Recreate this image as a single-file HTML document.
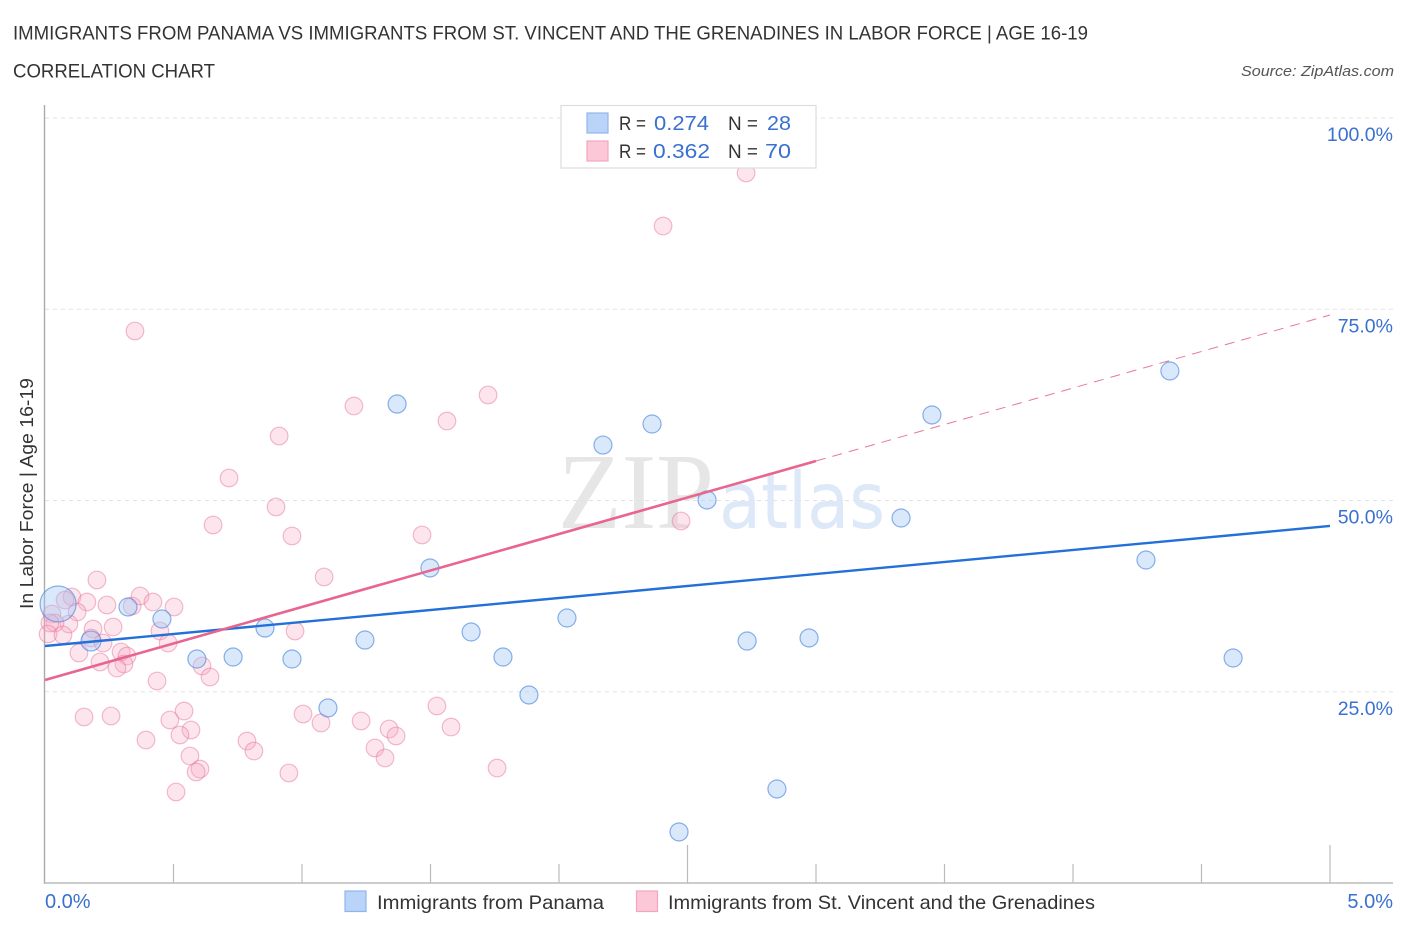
<!DOCTYPE html>
<html lang="en">
<head>
<meta charset="utf-8">
<title>Immigrants from Panama vs Immigrants from St. Vincent and the Grenadines in Labor Force | Age 16-19</title>
<style>
html,body{margin:0;padding:0;background:#fff;width:1406px;height:930px;overflow:hidden}
svg{display:block;font-family:"Liberation Sans",sans-serif}
</style>
</head>
<body>
<svg id="chart" width="1406" height="930" viewBox="0 0 1406 930" xmlns="http://www.w3.org/2000/svg">
  <text x="13" y="39.5" font-size="19.5" fill="#333" textLength="1075" lengthAdjust="spacingAndGlyphs">IMMIGRANTS FROM PANAMA VS IMMIGRANTS FROM ST. VINCENT AND THE GRENADINES IN LABOR FORCE | AGE 16-19</text>
  <text x="13" y="77.5" font-size="19.5" fill="#333" textLength="202" lengthAdjust="spacingAndGlyphs">CORRELATION CHART</text>
  <text x="1241" y="76" font-size="15" font-style="italic" fill="#555" textLength="153" lengthAdjust="spacingAndGlyphs">Source: ZipAtlas.com</text>

  <g>
    <text x="558" y="528" font-family="'Liberation Serif',serif" font-size="108" fill="#e6e6e6" textLength="156" lengthAdjust="spacingAndGlyphs">ZIP</text>
    <text x="719" y="528" font-family="'DejaVu Sans',sans-serif" font-size="78" fill="#dde9f9" textLength="166" lengthAdjust="spacingAndGlyphs">atlas</text>
  </g>

  <g id="grid"></g>
  <g id="axes"></g>
  <g id="points"></g>
  <g id="lines"></g>
  <g id="yticks"></g>
  <g id="xticks"></g>

  <text transform="translate(33,609) rotate(-90)" font-size="18.5" fill="#333" textLength="231" lengthAdjust="spacingAndGlyphs">In Labor Force | Age 16-19</text>

  <g>
    <rect x="561" y="105.5" width="255" height="62.5" fill="#fff" stroke="#ddd" stroke-width="1.2"/>
    <rect x="587" y="113" width="21" height="20" fill="#b9d4f8" stroke="#8fb6ec" stroke-width="1.2"/>
    <rect x="587" y="141" width="21" height="20" fill="#fcc8d8" stroke="#f2a6bf" stroke-width="1.2"/>
    <text x="619" y="130" font-size="19" fill="#333" textLength="27" lengthAdjust="spacingAndGlyphs">R =</text>
    <text x="654" y="130" font-size="20.5" fill="#3a70d0" textLength="55" lengthAdjust="spacingAndGlyphs">0.274</text>
    <text x="728" y="130" font-size="19" fill="#333" textLength="30" lengthAdjust="spacingAndGlyphs">N =</text>
    <text x="767" y="130" font-size="20.5" fill="#3a70d0" textLength="24" lengthAdjust="spacingAndGlyphs">28</text>
    <text x="619" y="158" font-size="19" fill="#333" textLength="27" lengthAdjust="spacingAndGlyphs">R =</text>
    <text x="653" y="158" font-size="20.5" fill="#3a70d0" textLength="57" lengthAdjust="spacingAndGlyphs">0.362</text>
    <text x="728" y="158" font-size="19" fill="#333" textLength="30" lengthAdjust="spacingAndGlyphs">N =</text>
    <text x="765" y="158" font-size="20.5" fill="#3a70d0" textLength="26" lengthAdjust="spacingAndGlyphs">70</text>
  </g>

  <g>
    <g>
      <rect x="345" y="891" width="21" height="20.5" fill="#b9d4f8" stroke="#8fb6ec" stroke-width="1.2"/>
      <text x="377" y="909" font-size="19.5" fill="#333" textLength="227" lengthAdjust="spacingAndGlyphs">Immigrants from Panama</text>
    </g>
    <g>
      <rect x="636.5" y="891" width="21" height="20.5" fill="#fcc8d8" stroke="#f2a6bf" stroke-width="1.2"/>
      <text x="668" y="909" font-size="19.5" fill="#333" textLength="427" lengthAdjust="spacingAndGlyphs">Immigrants from St. Vincent and the Grenadines</text>
    </g>
  </g>
</svg>
<script>
// ---- chart data (x = percent on the horizontal axis, y = labor force percent) ----
const panamaX = [0.051,0.179,0.323,0.455,0.591,0.732,0.856,0.961,1.101,1.245,1.370,1.498,1.658,1.782,1.883,2.031,2.171,2.362,2.467,2.576,2.732,2.848,2.973,3.331,3.451,4.284,4.377,4.623];
const panamaY = [36.47,31.63,36.08,34.51,29.28,29.54,33.33,29.28,22.88,31.76,62.61,41.18,32.81,29.54,24.58,34.64,57.25,60.0,6.67,50.07,31.63,12.29,32.03,47.71,61.18,42.22,66.93,29.41];
const panamaWeight = [4,1.23,1,1,1,1,1,1,1,1,1,1,1,1,1,1,1,1,1,1,1,1,1,1,1,1,1,1];

const vincentX = [0.202,0.105,0.078,0.163,0.241,0.125,0.027,0.339,0.370,0.420,0.502,0.093,0.039,0.019,0.012,0.070,0.187,0.179,0.226,0.265,0.132,0.214,0.296,0.319,0.307,0.280,0.447,0.479,0.436,0.611,0.642,0.973,0.152,0.257,0.393,0.486,0.541,0.568,0.525,0.564,0.603,0.588,0.510,0.786,0.813,0.949,1.004,1.074,1.230,1.339,1.284,1.323,1.366,1.580,1.525,1.759,1.086,0.961,0.899,0.911,0.716,0.654,0.350,1.202,1.564,1.724,1.467,2.475,2.405,2.728];
const vincentY = [39.61,37.39,36.99,36.73,36.34,35.42,35.16,36.21,37.52,36.73,36.08,33.86,33.99,33.99,32.55,32.42,33.20,32.03,31.37,33.46,30.07,28.89,30.20,29.67,28.63,28.10,32.94,31.37,26.41,28.37,26.93,32.94,21.70,21.83,18.69,21.31,22.48,20.0,19.35,16.60,14.90,14.51,11.90,18.56,17.25,14.38,22.09,20.92,21.18,20.13,17.65,16.34,19.22,20.39,23.14,15.03,40.0,45.36,49.15,58.43,52.94,46.80,72.16,62.35,60.39,63.79,45.49,47.32,85.88,92.81];

const panamaTrendX = [0,5];
const panamaTrendY = [30.98,46.67];
const vincentTrendSolidX = [0,3];
const vincentTrendSolidY = [26.54,55.16];
const vincentTrendDashX = [3,5];
const vincentTrendDashY = [55.16,74.25];

const yTickValues = [25,50,75,100];
const yTickLabels = ["25.0%","50.0%","75.0%","100.0%"];
const xTickValues = [0.5,1,1.5,2,2.5,3,3.5,4,4.5,5];
const xMajorTicks = [2.5,5];
const xEndValues = [0,5];
const xEndLabels = ["0.0%","5.0%"];

// ---- axis functions ----
const sx = v => 45 + v * 257;
const sy = v => 883 - v * 7.65;
const radius = w => 9 * Math.sqrt(w);
const NS = "http://www.w3.org/2000/svg";
function make(parent, tag, attrs){
  const el = document.createElementNS(NS, tag);
  for (const k in attrs) el.setAttribute(k, attrs[k]);
  parent.appendChild(el);
  return el;
}
const grid = document.getElementById("grid");
const axes = document.getElementById("axes");
const pts = document.getElementById("points");
const lines = document.getElementById("lines");
const yt = document.getElementById("yticks");
const xt = document.getElementById("xticks");

yTickValues.forEach(function(v){
  const g = make(grid, "line", {x1:45, x2:1393, y1:sy(v), y2:sy(v), stroke:"#e2e2e2", "stroke-width":1, "stroke-dasharray":"4 4"});
  
  
});

const yAxisLine = make(axes, "line", {x1:44.5, x2:44.5, y1:105, y2:884, stroke:"#aaa", "stroke-width":1.4});


const xAxisLine = make(axes, "line", {x1:44, x2:1393, y1:883, y2:883, stroke:"#bbb", "stroke-width":1.4});


xTickValues.forEach(function(v){
  const top = xMajorTicks.indexOf(v) >= 0 ? 845 : 864;
  const t = make(axes, "line", {x1:sx(v), x2:sx(v), y1:top, y2:883, stroke:"#bbb", "stroke-width":1.2});
  
  
});

vincentX.forEach(function(x, i){
  const c = make(pts, "circle", {cx:sx(x), cy:sy(vincentY[i]), r:8.8, fill:"rgba(250,170,195,0.3)", stroke:"rgba(232,120,160,0.5)", "stroke-width":1.2});
  
  
});
panamaX.forEach(function(x, i){
  const c = make(pts, "circle", {cx:sx(x), cy:sy(panamaY[i]), r:radius(panamaWeight[i]), fill:"rgba(160,200,245,0.4)", stroke:"rgba(70,130,220,0.62)", "stroke-width":1.2});
  
  
});

const trendPanama = make(lines, "line", {x1:sx(panamaTrendX[0]), y1:sy(panamaTrendY[0]), x2:sx(panamaTrendX[1]), y2:sy(panamaTrendY[1]), stroke:"#2270d8", "stroke-width":2.4});


const trendVincent = make(lines, "line", {x1:sx(vincentTrendSolidX[0]), y1:sy(vincentTrendSolidY[0]), x2:sx(vincentTrendSolidX[1]), y2:sy(vincentTrendSolidY[1]), stroke:"#e8658f", "stroke-width":2.6});


const trendVincentDash = make(lines, "line", {x1:sx(vincentTrendDashX[0]), y1:sy(vincentTrendDashY[0]), x2:sx(vincentTrendDashX[1]), y2:sy(vincentTrendDashY[1]), stroke:"#e8789c", "stroke-width":1, "stroke-dasharray":"10 7"});



yTickValues.forEach(function(v, i){
  const t = make(yt, "text", {x:1393, y:sy(v)+23, "text-anchor":"end", "font-size":19.5, fill:"#3a70d0"});
  t.textContent = yTickLabels[i];
  
  
});
xEndValues.forEach(function(v, i){
  const t = make(xt, "text", {x: i === 0 ? sx(v) : 1393, y:908, "text-anchor": i === 0 ? "start" : "end", "font-size":20, fill:"#3a70d0"});
  t.textContent = xEndLabels[i];
  
  
});
</script>
</body>
</html>
